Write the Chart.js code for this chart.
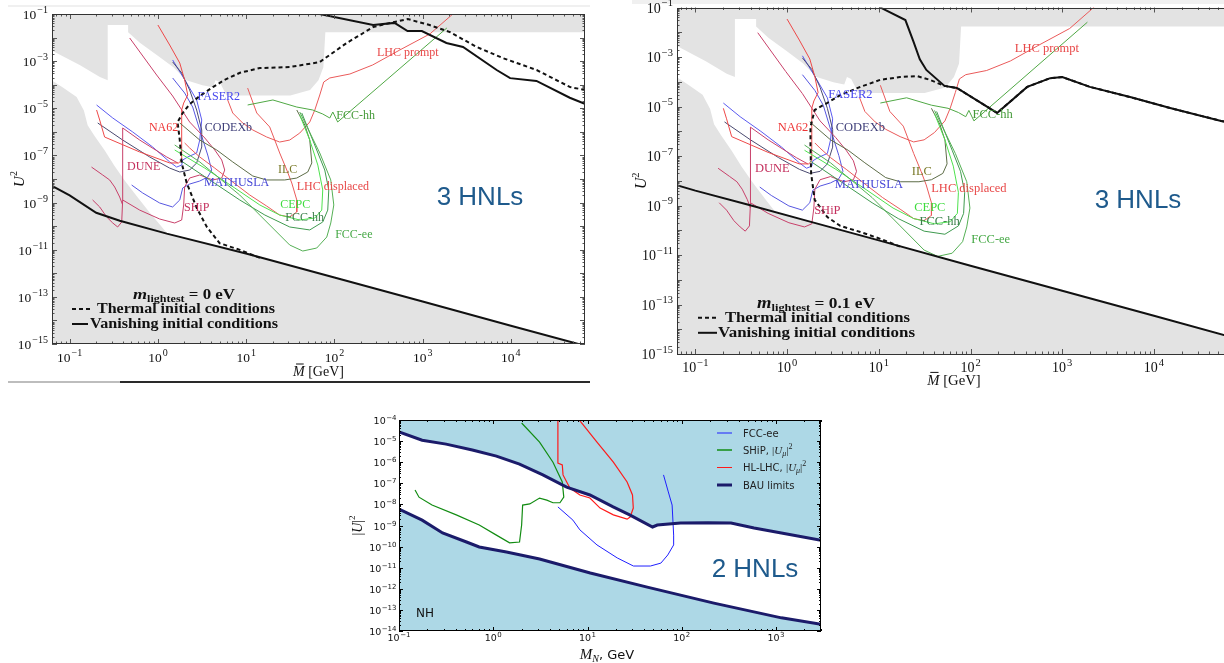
<!DOCTYPE html>
<html>
<head>
<meta charset="utf-8">
<script src="https://cdn.jsdelivr.net/npm/chart.js@4.4.1/dist/chart.umd.min.js"></script>
<style>
  html, body { margin: 0; padding: 0; background: #fff; overflow: hidden; width: 1224px; height: 663px; }
  canvas { position: absolute; }
  .rule { position: absolute; }
</style>
</head>
<body>
<div class="rule" style="left:8px;top:5px;width:582px;height:2px;background:#f0f0f0"></div>
<div class="rule" style="left:632px;top:0;width:592px;height:4px;background:#f0f0f0"></div>
<div class="rule" style="left:8px;top:381px;width:112px;height:2px;background:#bdbdbd"></div>
<div class="rule" style="left:120px;top:381px;width:470px;height:2px;background:#2a2a2a"></div>
<canvas id="c1" width="600" height="390" style="left:0;top:0"></canvas>
<canvas id="c2" width="610" height="392" style="left:630px;top:0"></canvas>
<canvas id="c3" width="500" height="258" style="left:340px;top:405px"></canvas>
<script>
// ===== 3 HNL panels: values are [M in GeV, U^2] =====
// grey region excluded by past experiments (filled up to the top)
const upperExcluded = [[0.06,3.2e-3],[0.071,2.2e-3],[0.13,6.8e-4],[0.22,2.1e-4],[0.27,1.55e-4],[0.27,3.4e-2],[0.46,3.4e-2],[0.46,1.7e-2],[0.63,5.9e-3],[0.98,1.8e-3],[1.5,5.5e-4],[2.1,1.55e-4],[3.2,9.5e-5],[4.2,7.8e-5],[4.5,1.55e-4],[5.0,1.3e-4],[6.0,3.5e-5],[31.6,3.5e-5],[53,5.9e-5],[66,1.55e-4],[75,5.5e-4],[79,1.7e-2],[70000,1.7e-2]];
// BBN bound (grey below it)
const bbnBound = [[0.06,1.7e-4],[0.083,7.8e-5],[0.12,3e-5],[0.145,8e-6],[0.16,1.9e-6],[0.19,7e-7],[0.25,1.6e-7],[0.32,3.7e-8],[0.42,8.7e-9],[0.58,1.8e-9],[0.81,3.7e-10],[1.26,5.3e-11]];

// future experiment sensitivities
const faser2 = [[0.202,1.38e-5],[0.308,3.87e-6],[0.518,9.9e-7],[0.873,2.28e-7],[1.36,5.3e-8],[1.63,3.2e-8],[1.86,3.9e-8],[1.91,6.4e-8],[2.18,8.6e-8],[2.75,1.27e-7],[2.98,4.5e-7],[3.14,3.18e-6],[2.75,2.25e-5],[2.12,1.18e-4],[1.47,1.12e-3]];
const mathusla = [[0.504,5.56e-9],[0.673,2.55e-9],[1.047,9.6e-10],[1.47,6.5e-10],[1.77,1.29e-9],[1.91,4.15e-9],[2.29,6.1e-9],[2.98,8.2e-9],[3.67,1.21e-8],[4.07,2.4e-8],[3.67,1.04e-7],[2.98,1.2e-6],[2.48,1.13e-5],[2.01,4.45e-5],[1.47,1.93e-4]];
const codexb = [[0.208,2.38e-6],[0.399,4.5e-7],[0.807,8.6e-8],[1.36,2.9e-8],[1.77,1.98e-8],[2.29,2.4e-8],[2.75,4.8e-8],[3.14,2.28e-7],[3.14,1.2e-6],[2.75,8.45e-6],[2.29,5.97e-5],[1.86,3.14e-4],[1.47,9.2e-4]];
const na62 = [[0.202,8.45e-6],[0.219,3.18e-6],[0.249,6.05e-7],[0.622,1.4e-7],[1.36,4.8e-8],[1.72,4.8e-8],[1.86,6.4e-8],[1.86,8.45e-6],[1.96,1.67e-5],[2.18,3.66e-5],[2.01,1.58e-4],[1.77,8.3e-4],[1.36,4.84e-3],[1.0,3.41e-2]];
const dune = [[0.182,1.29e-9],[0.219,6.5e-10],[0.263,2.44e-10],[0.308,1.36e-10],[0.35,9.2e-11],[0.389,1.5e-10],[0.399,1.29e-9],[0.399,1.46e-6],[0.622,4.5e-7],[1.26,8.6e-8],[1.68,4.8e-8]];
const duneInner = [[0.177,3.2e-8],[0.237,1.48e-8],[0.284,9.1e-9],[0.324,4.57e-9],[0.369,1.72e-9],[0.399,7.9e-10]];
const ship = [[0.479,9.6e-3],[0.968,2.58e-4],[1.47,3.32e-5],[2.29,2.62e-6],[3.4,5.5e-7],[4.41,1.7e-7],[5.29,6.4e-8],[5.72,2.4e-8],[5.29,1.1e-8],[4.18,9.1e-9],[2.98,1.48e-8],[2.29,1.1e-8],[2.01,4.57e-9],[1.96,7.9e-10],[1.86,1.82e-10],[1.55,1.36e-10],[1.047,2.01e-10],[0.622,4.8e-10],[0.399,1.29e-9]];
const ilc = [[1.77,2.38e-6],[2.98,4.5e-7],[4.64,1.7e-7],[7.05,5.3e-8],[11.9,1.34e-8],[17.1,9.1e-9],[27.4,9.1e-9],[37.5,1.1e-8],[49.9,1.98e-8],[55.5,4.8e-8],[52.6,4.5e-7],[46.2,1.95e-6],[37.5,8.45e-6]];
const fccee = [[1.55,2.77e-7],[2.98,5.3e-8],[8.46,2.09e-9],[17.1,1.5e-10],[31.2,1.58e-11],[43.8,8.8e-12],[63.1,1.18e-11],[82,3.46e-11],[91,1.36e-10],[98.5,7.9e-10],[91,9.1e-9],[68.3,1.27e-7],[40.5,6.95e-6]];
const fcchhDisplaced = [[1.77,6.4e-8],[3.87,9.1e-9],[8.46,1.29e-9],[16.3,2.96e-10],[31.2,9.2e-11],[52.6,6.9e-11],[73.8,1.5e-10],[84.1,4.8e-10],[86.4,3.41e-9],[77.8,2.4e-8],[63.1,1.7e-7],[42.7,6.3e-6]];
const cepc = [[1.55,1.7e-7],[3.4,2.9e-8],[7.43,4.15e-9],[14.3,7.9e-10],[24,2.96e-10],[40.5,1.82e-10],[60,2.21e-10],[71.9,4.8e-10],[73.8,3.41e-9],[64.9,3.9e-8],[52.6,4.5e-7],[40.5,5.19e-6]];
const fcchhPrompt = [[10.4,1.38e-5],[20.1,2.25e-5],[37.5,1.13e-5],[56.9,8.45e-6],[73.8,5.72e-6],[88.7,3.87e-6],[96,6.95e-6],[109,2.62e-6],[1880,2.55e-2]];
const lhcPrompt = [[6.18,2.25e-5],[7.05,6.3e-6],[9.13,2.38e-6],[11.9,1.2e-6],[17.1,6.05e-7],[24,3.7e-7],[31.2,4.5e-7],[40.5,8.9e-7],[52.6,2.62e-6],[60,8.45e-6],[68.3,3.66e-5],[75.7,1.3e-4],[88.7,1.93e-4],[150,2.85e-4],[272,6.9e-4],[551,2.97e-3],[1207,1.42e-2],[2200,0.1],[2600,0.2]];
const lhcDisplaced = [[10.4,7.2e-5],[13.2,6.3e-6],[18.5,1.61e-6],[21.1,4.5e-7],[24,1.27e-7],[28.9,2.4e-8],[32.9,6.76e-9],[37.5,1.29e-9],[37.5,4e-10],[31.2,2.44e-10],[24,2.96e-10],[17.1,7.1e-10],[11,2.09e-9],[7.05,7.45e-9],[4.41,2.9e-8],[2.98,8.6e-8],[2.29,2.07e-7],[2.01,3.37e-7]];

// leptogenesis bounds, m_lightest = 0 eV
const vanishingLow0 = [[0.06,5.6e-9],[0.1,2e-9],[0.2,3.7e-10],[0.37,1.7e-10],[1.26,4.8e-11],[10.2,6.8e-12],[100,6.6e-13],[1000,6.3e-14],[10000,5.9e-15],[70000,8.3e-16]];
const vanishingHigh0 = [[0.06,0.1],[68,0.1],[275,3.4e-2],[480,4.2e-2],[675,1.9e-2],[980,1.9e-2],[1860,5.9e-3],[2870,4e-3],[6900,4.2e-4],[9800,1.9e-4],[19500,1.44e-4],[46500,2.8e-5],[70000,1.5e-5]];
const thermal0 = [[14.3,4.5e-12],[8.5,9.8e-12],[5.0,1.9e-11],[3.6,9e-11],[2.75,6e-10],[2.12,6.8e-9],[1.86,4.8e-8],[1.77,4.5e-7],[1.67,2.6e-6],[1.91,6.3e-6],[2.29,1.5e-5],[2.98,3.3e-5],[4.2,7.9e-5],[5.7,1.6e-4],[8.5,3.2e-4],[14.3,5.1e-4],[31,5.6e-4],[68,9.1e-4],[138,5.9e-3],[275,2.8e-2],[430,4.2e-2],[680,6.1e-2],[1200,3.4e-2],[2040,1.7e-2],[4100,4e-3],[8100,1.35e-3],[19600,4.2e-4],[47000,7.9e-5],[70000,6e-5]];

// leptogenesis bounds, m_lightest = 0.1 eV
const vanishingLow1 = [[0.06,7e-9],[0.1,4e-9],[0.37,1.1e-9],[1.66,2.4e-10],[10,3.9e-11],[100,3.7e-12],[1000,3.6e-13],[10000,3.5e-14],[70000,4.8e-15]];
const vanishingHigh1 = [[9,0.2],[10.4,0.1],[19.5,3.1e-2],[24,4e-3],[28,8e-4],[33,3e-4],[52,6.8e-5],[71,5.6e-5],[195,5.5e-6],[415,6.2e-5],[740,1.4e-4],[1000,1.55e-4],[2000,6.2e-5],[5500,2.4e-5],[15000,8.7e-6],[54000,2.6e-6],[70000,2.2e-6]];
const thermal1 = [[17,2.2e-11],[10.4,4.5e-11],[6.3,8.5e-11],[3.8,1.5e-10],[2.75,3.4e-10],[2.0,1.7e-9],[1.87,1.07e-8],[1.83,2e-8],[1.8,2.3e-7],[1.8,1.5e-6],[2.0,7.2e-6],[2.75,1.4e-5],[3.8,2.9e-5],[6.3,6.2e-5],[10.4,1.2e-4],[17,1.55e-4],[26,1.7e-4],[36,1.2e-4],[52,6.8e-5],[71,5.6e-5],[195,5.5e-6],[415,6.2e-5],[740,1.4e-4],[1000,1.55e-4],[2000,6.2e-5],[5500,2.4e-5],[15000,8.7e-6],[54000,2.6e-6],[70000,2.2e-6]];

// ===== 2 HNL panel: values are [M_N in GeV, |U|^2] =====
const bauUpper = [[0.1,2.7e-5],[0.176,1.1e-5],[0.316,7.2e-6],[0.6,3.8e-6],[1.08,1.95e-6],[1.9,8.2e-7],[3.36,2.5e-7],[6,6.6e-8],[10.6,2.8e-8],[18.7,7.6e-9],[28,3.2e-9],[49,8.5e-10],[55,1.05e-9],[97,1.3e-9],[190,1.35e-9],[333,1.3e-9],[585,7.6e-10],[1140,4.4e-10],[3000,2e-10]];
const bauLower = [[0.1,6e-9],[0.176,1.8e-9],[0.29,4.4e-10],[0.52,1.65e-10],[0.71,9.6e-11],[1.38,5.5e-11],[3.1,2.6e-11],[10.7,5.6e-12],[43,1.2e-12],[219,2.1e-13],[1140,4.2e-14],[3000,2.1e-14]];
const shipMu = [[0.148,4.8e-8],[0.163,2.2e-8],[0.224,9.3e-9],[0.405,3.2e-9],[0.71,1.05e-9],[1.08,3.5e-10],[1.49,1.5e-10],[1.9,1.65e-10],[2.0,1.05e-9],[2.05,9.3e-9],[2.44,1.05e-8],[3.1,2e-8],[3.7,1.6e-8],[4.3,1.2e-8],[5.1,1.2e-8],[5.6,2.2e-8],[5.4,1.15e-7],[4.3,1e-6],[3.1,9e-6],[2.0,7.2e-5]];
const hllhcMu = [[4.85,1.2e-4],[4.85,9e-7],[5.4,7.4e-7],[5.5,2.5e-7],[6.5,6e-8],[8.3,2.8e-8],[10.6,2e-8],[13.6,6.7e-9],[18.8,3.2e-9],[26.3,2e-9],[28.3,2.5e-9],[30.6,6.7e-9],[30,2.8e-8],[26.3,1.15e-7],[18.8,1e-6],[12.6,9e-6],[9.0,5.8e-5],[7.8,1.3e-4]];
const fccee2 = [[4.85,7.6e-9],[7.0,1.8e-9],[8.3,6.2e-10],[12.6,1.2e-10],[20.7,2.9e-11],[30.7,1.2e-11],[46.5,1.2e-11],[60,1.65e-11],[71,4e-11],[82,1.2e-10],[82,3.5e-10],[79,9.3e-9],[72,3.9e-8],[64,2.5e-7]];

// tick exponents
const xExp3 = [-1, 0, 1, 2, 3, 4];
const yExp3 = [-1, -3, -5, -7, -9, -11, -13, -15];
const xExp2 = [-1, 0, 1, 2, 3];
const yExp2 = [-4, -5, -6, -7, -8, -9, -10, -11, -12, -13, -14];

// curve captions (anchored in data coordinates)
const captions3 = [
  { t: 'FASER2', m: 4.9, u: 3e-5, c: '#4747ee' },
  { t: 'NA62', m: 1.16, u: 1.45e-6, c: '#ee3535' },
  { t: 'CODEXb', m: 6.3, u: 1.45e-6, c: '#3d3d78' },
  { t: 'DUNE', m: 0.69, u: 3.2e-8, c: '#c4305e' },
  { t: 'MATHUSLA', m: 7.8, u: 6.8e-9, c: '#4646d6' },
  { t: 'ILC', m: 29.5, u: 2.4e-8, c: '#7a7a2a' },
  { t: 'LHC displaced', m: 96, u: 4.6e-9, c: '#e84848' },
  { t: 'SHiP', m: 2.75, u: 5.9e-10, c: '#c4305e' },
  { t: 'CEPC', m: 36, u: 7.9e-10, c: '#3fdc3f' },
  { t: 'FCC-hh', m: 46, u: 2.2e-10, c: '#3a7f4a' },
  { t: 'FCC-ee', m: 166, u: 4.2e-11, c: '#45a845' },
  { t: 'LHC prompt', m: 680, u: 2.2e-3, c: '#e84848' },
  { t: 'FCC-hh', m: 174, u: 4.7e-6, c: '#449a38' }
];

const SERIF = '"Liberation Serif","DejaVu Serif",serif';
const SANS = '"DejaVu Sans","Liberation Sans",sans-serif';
const ARIAL = '"Liberation Sans",Arial,sans-serif';
const GREY = '#e3e3e3';

const pts = a => a.map(([x, y]) => ({ x, y }));
function curve(data, color, width, extra) {
  return Object.assign({ data: pts(data), borderColor: color, borderWidth: width || 1, pointRadius: 0, fill: false, tension: 0, order: 1 }, extra || {});
}
function area(data, color, to) {
  return { data: pts(data), borderWidth: 0, borderColor: 'rgba(0,0,0,0)', backgroundColor: color, fill: to, pointRadius: 0, tension: 0, order: 5 };
}

function eachLogTick(scale, fn) {
  const lo = Math.floor(Math.log10(scale.min)), hi = Math.ceil(Math.log10(scale.max));
  for (let e = lo; e <= hi; e++) {
    for (let m = 1; m <= 9; m++) {
      const v = m * Math.pow(10, e);
      if (v < scale.min * 0.999 || v > scale.max * 1.001) continue;
      fn(scale.getPixelForValue(v), m === 1);
    }
  }
}

function powLabel(ctx, x, y, exp, f, align) {
  const base = '10', sup = exp < 0 ? '\u2212' + (-exp) : String(exp);
  ctx.font = f.base; const wb = ctx.measureText(base).width;
  ctx.font = f.sup; const ws = ctx.measureText(sup).width;
  const w = wb + f.gap + ws;
  const x0 = align === 'right' ? x - w : x - w / 2;
  ctx.textAlign = 'left'; ctx.textBaseline = 'alphabetic';
  ctx.font = f.base; ctx.fillText(base, x0, y);
  ctx.font = f.sup; ctx.fillText(sup, x0 + wb + f.gap, y - f.raise);
}

// draws a run of differently styled pieces; fitW optionally stretches the run horizontally
function drawRich(ctx, parts, x, y, align, fitW) {
  let w = 0;
  parts.forEach(p => { ctx.font = p.font; p.w = ctx.measureText(p.t).width; w += p.w; });
  const k = fitW ? fitW / w : 1;
  const tw = w * k;
  const x0 = align === 'center' ? x - tw / 2 : align === 'right' ? x - tw : x;
  ctx.save();
  ctx.translate(x0, y);
  ctx.scale(k, 1);
  ctx.textAlign = 'left'; ctx.textBaseline = 'alphabetic';
  let cx = 0;
  parts.forEach(p => {
    ctx.font = p.font;
    ctx.fillText(p.t, cx, p.dy || 0);
    if (p.bar) {
      ctx.lineWidth = 1; ctx.strokeStyle = ctx.fillStyle;
      ctx.beginPath(); ctx.moveTo(cx + p.bar[0], -p.bar[2]); ctx.lineTo(cx + p.w + p.bar[1], -p.bar[2]); ctx.stroke();
    }
    cx += p.w;
  });
  ctx.restore();
}

function panelPlugin(cfg) {
  return {
    id: 'panel',
    afterDraw(chart) {
      const ctx = chart.ctx, a = chart.chartArea, xs = chart.scales.x, ys = chart.scales.y;
      ctx.save();
      ctx.strokeStyle = cfg.tickColor; ctx.lineWidth = 1; ctx.setLineDash([]);
      ctx.beginPath();
      eachLogTick(xs, (p, major) => {
        const L = major ? cfg.major : cfg.minor, q = Math.round(p) + 0.5;
        ctx.moveTo(q, a.bottom); ctx.lineTo(q, a.bottom - L);
        ctx.moveTo(q, a.top); ctx.lineTo(q, a.top + L);
      });
      eachLogTick(ys, (p, major) => {
        const L = major ? cfg.major : cfg.minor, q = Math.round(p) + 0.5;
        ctx.moveTo(a.left, q); ctx.lineTo(a.left + L, q);
        ctx.moveTo(a.right, q); ctx.lineTo(a.right - L, q);
      });
      ctx.stroke();
      ctx.strokeStyle = cfg.frameColor; ctx.lineWidth = cfg.frameWidth;
      ctx.strokeRect(Math.round(a.left) + 0.5, Math.round(a.top) + 0.5, Math.round(a.right - a.left) - 1, Math.round(a.bottom - a.top) - 1);
      ctx.fillStyle = cfg.textColor;
      cfg.xExp.forEach(e => powLabel(ctx, xs.getPixelForValue(Math.pow(10, e)), a.bottom + cfg.xLabelDy, e, cfg.tick, 'center'));
      cfg.yExp.forEach(e => powLabel(ctx, a.left - cfg.yLabelGap, ys.getPixelForValue(Math.pow(10, e)) + cfg.yLabelDy, e, cfg.tick, 'right'));
      (cfg.captions || []).forEach(l => {
        ctx.font = cfg.captionFont; ctx.fillStyle = l.c; ctx.textAlign = 'center'; ctx.textBaseline = 'middle';
        ctx.fillText(l.t, xs.getPixelForValue(l.m), ys.getPixelForValue(l.u));
      });
      if (cfg.extra) cfg.extra(ctx, a);
      ctx.restore();
    }
  };
}

function makeChart(id, datasets, xr, yr, pad, plugin) {
  return new Chart(document.getElementById(id), {
    type: 'line',
    data: { datasets },
    options: {
      responsive: false, animation: false, devicePixelRatio: 1, events: [],
      layout: { padding: pad },
      plugins: { legend: { display: false }, tooltip: { enabled: false } },
      scales: {
        x: { type: 'logarithmic', min: xr[0], max: xr[1], display: false },
        y: { type: 'logarithmic', min: yr[0], max: yr[1], display: false }
      }
    },
    plugins: [plugin]
  });
}

function sensitivityCurves() {
  return [
    curve(fccee, '#55b055'), curve(fcchhDisplaced, '#3f9a4f'), curve(cepc, '#4ee24e'),
    curve(ilc, '#5d6c47'), curve(fcchhPrompt, '#4fa844'),
    curve(lhcPrompt, '#ea5a5a'), curve(lhcDisplaced, '#ea5a5a'), curve(na62, '#ee4848'),
    curve(dune, '#c8406a'), curve(duneInner, '#c8406a'), curve(ship, '#c8406a'),
    curve(codexb, '#4a4a70'), curve(faser2, '#5a5af0'), curve(mathusla, '#5656e0')
  ];
}

function hnl3Datasets(low, high, thermal) {
  return [
    area(upperExcluded, GREY, 'end'),
    area(bbnBound, GREY, 'start'),
    area(low, GREY, 'start'),
    ...sensitivityCurves(),
    curve(thermal, '#111', 2, { borderDash: [4, 3], order: 0 }),
    curve(low, '#111', 2, { order: 0 }),
    curve(high, '#111', 2, { order: 0 })
  ];
}

// legend block: g holds positions and target widths of the three lines
function legend3(ctx, s, g, mText) {
  ctx.fillStyle = '#111';
  drawRich(ctx, [
    { t: 'm', font: `bold italic ${15 * s}px ${SERIF}` },
    { t: 'lightest', font: `bold ${10 * s}px ${SERIF}`, dy: 3 * s },
    { t: mText, font: `bold ${14 * s}px ${SERIF}` }
  ], g.mx, g.my, 'center', g.mw);
  ctx.strokeStyle = '#111'; ctx.lineWidth = 2;
  ctx.setLineDash([4, 3]);
  ctx.beginPath(); ctx.moveTo(g.lx0, g.ty - 4 * s); ctx.lineTo(g.lx1 + 2, g.ty - 4 * s); ctx.stroke();
  ctx.setLineDash([]);
  ctx.beginPath(); ctx.moveTo(g.lx0, g.vy - 4 * s); ctx.lineTo(g.lx1, g.vy - 4 * s); ctx.stroke();
  const f = `bold ${14 * s}px ${SERIF}`;
  drawRich(ctx, [{ t: 'Thermal initial conditions', font: f }], g.tx, g.ty, 'left', g.tw);
  drawRich(ctx, [{ t: 'Vanishing initial conditions', font: f }], g.vx, g.vy, 'left', g.vw);
}

function axisTitles3(ctx, a, s, yx, xBase) {
  ctx.fillStyle = '#111';
  ctx.save();
  ctx.translate(yx, (a.top + a.bottom) / 2);
  ctx.rotate(-Math.PI / 2);
  drawRich(ctx, [{ t: 'U', font: `italic ${15 * s}px ${SERIF}` }, { t: '2', font: `${10 * s}px ${SERIF}`, dy: -7 * s }], 0, 0, 'center');
  ctx.restore();
  drawRich(ctx, [
    { t: 'M', font: `italic ${14 * s}px ${SERIF}`, bar: [3, -1, 12 * s] },
    { t: ' [GeV]', font: `${14 * s}px ${SERIF}` }
  ], (a.left + a.right) / 2, xBase, 'center');
}

// ---- left panel: m_lightest = 0 eV ----
makeChart('c1', hnl3Datasets(vanishingLow0, vanishingHigh0, thermal0), [0.0631, 69183], [1e-15, 0.1],
  { left: 52, top: 14, right: 15, bottom: 46 },
  panelPlugin({
    tickColor: '#555', frameColor: '#333', frameWidth: 1, major: 5, minor: 2.5, textColor: '#111',
    xExp: xExp3, yExp: yExp3, xLabelDy: 18, yLabelGap: 4, yLabelDy: 5,
    tick: { base: `13.5px ${SERIF}`, sup: `10px ${SERIF}`, raise: 6, gap: 1 },
    captions: captions3, captionFont: `12px ${SERIF}`,
    extra(ctx, a) {
      axisTitles3(ctx, a, 1, 24, a.bottom + 32);
      legend3(ctx, 1, { mx: 184, my: 299, mw: 102, lx0: 72, lx1: 88, tx: 97, ty: 313, tw: 178, vx: 90, vy: 328, vw: 188 }, ' = 0 eV');
      ctx.fillStyle = '#1e5a8c'; ctx.font = `26px ${ARIAL}`; ctx.textAlign = 'center'; ctx.textBaseline = 'alphabetic';
      ctx.fillText('3 HNLs', 480, 205);
    }
  }));

// ---- right panel: m_lightest = 0.1 eV ----
makeChart('c2', hnl3Datasets(vanishingLow1, vanishingHigh1, thermal1), [0.0631, 69183], [1e-15, 0.1],
  { left: 47, top: 7.5, right: 9, bottom: 38 },
  panelPlugin({
    tickColor: '#555', frameColor: '#333', frameWidth: 1, major: 5, minor: 2.5, textColor: '#111',
    xExp: xExp3, yExp: yExp3, xLabelDy: 18, yLabelGap: 4, yLabelDy: 5,
    tick: { base: `14px ${SERIF}`, sup: `10.5px ${SERIF}`, raise: 6.5, gap: 1 },
    captions: captions3, captionFont: `12.5px ${SERIF}`,
    extra(ctx, a) {
      axisTitles3(ctx, a, 1.05, 16, 385);
      legend3(ctx, 1.05, { mx: 186, my: 308, mw: 118, lx0: 68, lx1: 87, tx: 95, ty: 322, tw: 185, vx: 88, vy: 337, vw: 197 }, ' = 0.1 eV');
      ctx.fillStyle = '#1e5a8c'; ctx.font = `26px ${ARIAL}`; ctx.textAlign = 'center'; ctx.textBaseline = 'alphabetic';
      ctx.fillText('3 HNLs', 508, 208);
    }
  }));

// ---- bottom panel: 2 HNLs ----
const NAVY = '#1b1b6a';
makeChart('c3', [
    area(bauUpper, '#add8e6', 'end'),
    area(bauLower, '#add8e6', 'start'),
    curve(fccee2, '#1f1fff', 1),
    curve(shipMu, '#128c12', 1.2),
    curve(hllhcMu, '#ff1a1a', 1.2),
    curve(bauUpper, NAVY, 3, { order: 0 }),
    curve(bauLower, NAVY, 3, { order: 0 })
  ], [0.1, 3000], [1e-14, 1e-4],
  { left: 59, top: 15, right: 19, bottom: 32 },
  panelPlugin({
    tickColor: '#000', frameColor: '#000', frameWidth: 1, major: 4, minor: 2, textColor: '#111',
    xExp: xExp2, yExp: yExp2, xLabelDy: 10, yLabelGap: 2.5, yLabelDy: 4,
    tick: { base: `9.5px ${SANS}`, sup: `7px ${SANS}`, raise: 4, gap: 0.5 },
    extra(ctx, a) {
      ctx.fillStyle = '#111';
      ctx.save();
      ctx.translate(22, (a.top + a.bottom) / 2);
      ctx.rotate(-Math.PI / 2);
      drawRich(ctx, [
        { t: '|', font: `14px ${SERIF}` }, { t: 'U', font: `italic 14px ${SERIF}` },
        { t: '|', font: `14px ${SERIF}` }, { t: '2', font: `9px ${SERIF}`, dy: -7 }
      ], 0, 0, 'center');
      ctx.restore();
      drawRich(ctx, [
        { t: 'M', font: `italic 15px ${SERIF}` }, { t: 'N', font: `italic 10px ${SERIF}`, dy: 3 },
        { t: ', GeV', font: `13px ${SANS}` }
      ], 267, 254, 'center');
      // legend
      const lx0 = a.right - 104, lx1 = a.right - 89, tx = a.right - 78;
      const math = (sub) => [
        { t: '|', font: `11px ${SERIF}` }, { t: 'U', font: `italic 11px ${SERIF}` },
        { t: sub, font: `italic 8px ${SERIF}`, dy: 2 }, { t: '|', font: `11px ${SERIF}` }, { t: '2', font: `8px ${SERIF}`, dy: -5 }
      ];
      const rows = [
        { y: a.top + 13, color: '#1f1fff', w: 1, parts: [{ t: 'FCC-ee', font: `10px ${SANS}` }] },
        { y: a.top + 30, color: '#128c12', w: 1.5, parts: [{ t: 'SHiP, ', font: `10px ${SANS}` }, ...math('\u03bc')] },
        { y: a.top + 47.5, color: '#ff1a1a', w: 1, parts: [{ t: 'HL-LHC, ', font: `10px ${SANS}` }, ...math('\u03bc')] },
        { y: a.top + 65, color: NAVY, w: 3, parts: [{ t: 'BAU limits', font: `10px ${SANS}` }] }
      ];
      rows.forEach(r => {
        ctx.strokeStyle = r.color; ctx.lineWidth = r.w;
        ctx.beginPath(); ctx.moveTo(lx0, r.y); ctx.lineTo(lx1, r.y); ctx.stroke();
        ctx.fillStyle = '#222';
        drawRich(ctx, r.parts, tx, r.y + 3.5, 'left');
      });
      ctx.fillStyle = '#111'; ctx.font = `12px ${SANS}`; ctx.textAlign = 'left'; ctx.textBaseline = 'alphabetic';
      ctx.fillText('NH', 76, 212);
      ctx.fillStyle = '#1e5a8c'; ctx.font = `26px ${ARIAL}`; ctx.textAlign = 'center';
      ctx.fillText('2 HNLs', 415, 172);
    }
  }));
</script>
</body>
</html>
